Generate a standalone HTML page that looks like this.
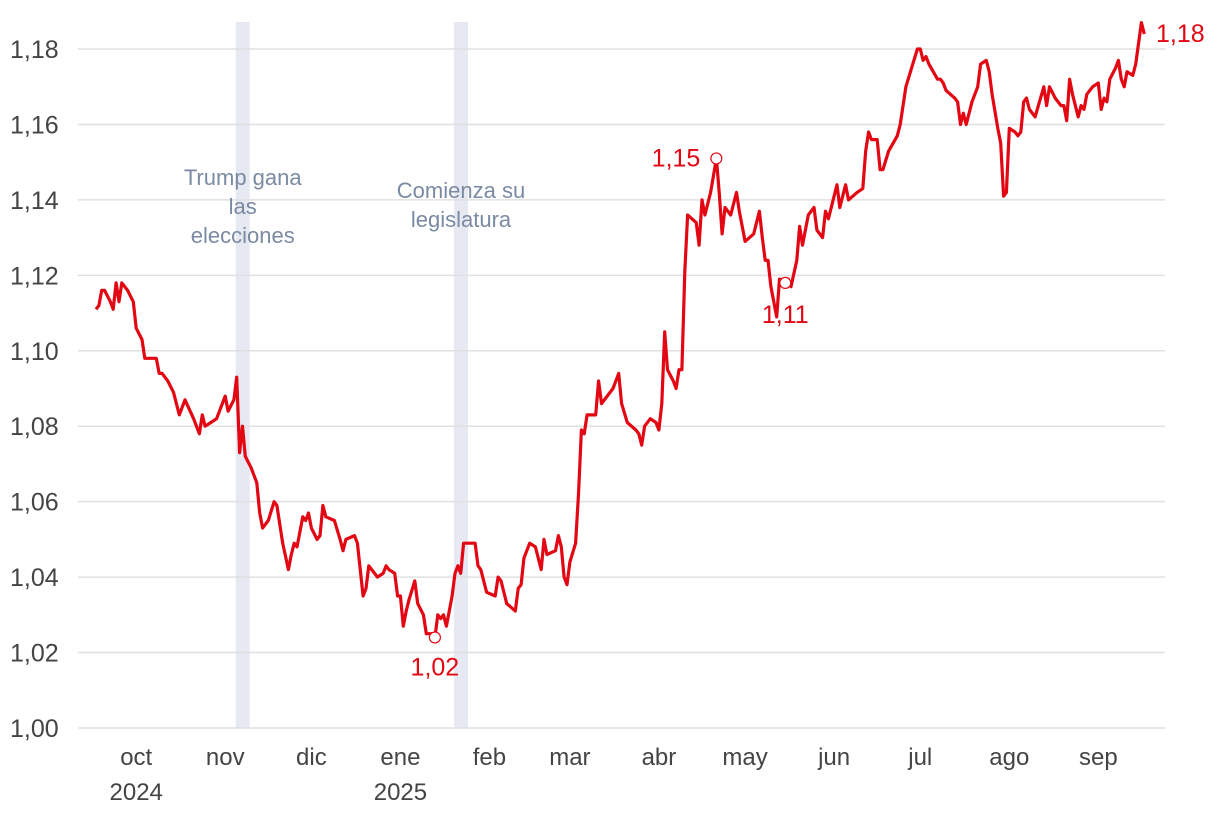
<!DOCTYPE html>
<html><head><meta charset="utf-8">
<style>
html,body{margin:0;padding:0;background:#fff;}
svg{display:block;font-family:"Liberation Sans",sans-serif;}
</style></head>
<body>
<svg id="chart" width="1220" height="816"></svg>
<script>
const dayIndex=[0,1,2,3,5,6,7,8,9,11,13,14,16,17,21,22,23,25,27,29,31,34,36,37,38,40,42,45,46,48,49,50,51,52,54,56,57,58,60,62,63,65,67,68,69,70,72,73,74,75,77,78,79,80,83,85,86,87,90,91,93,94,95,96,98,100,101,102,104,105,106,107,108,109,111,112,114,115,117,118,119,120,121,122,124,125,126,127,128,132,133,134,136,139,140,141,143,146,147,148,149,150,151,153,155,156,157,160,161,162,163,164,165,167,168,169,170,171,174,175,176,178,180,182,183,185,188,189,190,191,193,195,196,197,198,199,201,202,203,204,205,206,209,210,211,212,214,216,217,218,219,221,223,224,226,229,231,232,233,234,235,237,238,240,241,242,244,245,246,248,250,251,253,254,255,257,258,259,261,262,265,267,268,269,270,272,273,274,276,279,280,282,284,286,287,288,289,290,293,294,295,296,299,300,301,302,303,305,307,308,310,311,312,314,315,316,317,318,320,321,322,323,324,325,327,330,331,332,334,336,337,338,339,340,342,343,344,345,347,349,350,351,352,353,355,356,357,358,359,361,362,364,365];
const rateValues=[1.111,1.112,1.116,1.116,1.113,1.111,1.118,1.113,1.118,1.116,1.113,1.106,1.103,1.098,1.098,1.094,1.094,1.092,1.089,1.083,1.087,1.082,1.078,1.083,1.080,1.081,1.082,1.088,1.084,1.087,1.093,1.073,1.080,1.072,1.069,1.065,1.057,1.053,1.055,1.060,1.059,1.049,1.042,1.046,1.049,1.048,1.056,1.055,1.057,1.053,1.050,1.051,1.059,1.056,1.055,1.050,1.047,1.050,1.051,1.049,1.035,1.037,1.043,1.042,1.040,1.041,1.043,1.042,1.041,1.035,1.035,1.027,1.031,1.034,1.039,1.033,1.030,1.025,1.025,1.024,1.030,1.029,1.030,1.027,1.035,1.041,1.043,1.041,1.049,1.049,1.043,1.042,1.036,1.035,1.040,1.039,1.033,1.031,1.037,1.038,1.045,1.047,1.049,1.048,1.042,1.050,1.046,1.047,1.051,1.048,1.040,1.038,1.044,1.049,1.062,1.079,1.078,1.083,1.083,1.092,1.086,1.088,1.090,1.094,1.086,1.081,1.079,1.078,1.075,1.080,1.082,1.081,1.079,1.086,1.105,1.095,1.092,1.090,1.095,1.095,1.121,1.136,1.134,1.128,1.140,1.136,1.142,1.151,1.142,1.131,1.138,1.136,1.142,1.137,1.129,1.131,1.137,1.130,1.124,1.124,1.117,1.109,1.119,1.118,1.119,1.117,1.124,1.133,1.128,1.136,1.138,1.132,1.130,1.137,1.135,1.141,1.144,1.138,1.144,1.140,1.142,1.143,1.153,1.158,1.156,1.156,1.148,1.148,1.153,1.157,1.160,1.170,1.175,1.180,1.180,1.177,1.178,1.176,1.172,1.172,1.171,1.169,1.167,1.166,1.160,1.163,1.160,1.166,1.170,1.176,1.177,1.174,1.168,1.159,1.155,1.141,1.142,1.159,1.158,1.157,1.158,1.166,1.167,1.164,1.162,1.170,1.165,1.170,1.167,1.165,1.165,1.161,1.172,1.168,1.162,1.165,1.164,1.168,1.170,1.171,1.164,1.167,1.166,1.172,1.175,1.177,1.172,1.170,1.174,1.173,1.176,1.187,1.184];
const yTicks=[1.00,1.02,1.04,1.06,1.08,1.10,1.12,1.14,1.16,1.18];
const monthLabels=["oct","nov","dic","ene","feb","mar","abr","may","jun","jul","ago","sep"];
const monthDays=[14,45,75,106,137,165,196,226,257,287,318,349];
const yearLabels=["2024","","","2025","","","","","","","",""];
const eventDays=[49,125];
const eventLabels=[["Trump gana","las","elecciones"],["Comienza su","legislatura"]];
const markedIdx=[79,147,163];
const markedLabels=["1,02","1,15","1,11"];

const NS="http://www.w3.org/2000/svg";
const svg=document.getElementById('chart');
const X=d=>96+d*2.872;
const Y=v=>728-(v-1)*3772;
function el(t,a,p){const e=document.createElementNS(NS,t);for(const k in a)e.setAttribute(k,a[k]);(p||svg).appendChild(e);return e;}
const fmt=v=>v.toFixed(2).replace('.',',');

eventDays.forEach((d,i)=>{
  const r=el('rect',{x:X(d)-1,y:22,width:14,height:706,fill:'#e6e9f2'});
  
  
});
yTicks.forEach(v=>{
  const g=el('line',{x1:78,x2:1165,y1:Y(v),y2:Y(v),stroke:'#e0e0e0','stroke-width':1.5});
  
  
  const t=el('text',{x:10,y:Y(v)+9,'font-size':25,fill:'#444'});
  t.textContent=fmt(v);
  
  
});
monthLabels.forEach((m,i)=>{
  const t=el('text',{x:X(monthDays[i]),y:765,'font-size':24,fill:'#444','text-anchor':'middle'});
  t.textContent=m;
  
  
  if(yearLabels[i]){
    const y=el('text',{x:X(monthDays[i]),y:800,'font-size':24,fill:'#444','text-anchor':'middle'});
    y.textContent=yearLabels[i];
    
    
  }
});
const evTop=[185,198];
eventLabels.forEach((lines,i)=>{
  lines.forEach((s,j)=>{
    const t=el('text',{x:X(eventDays[i])+6,y:evTop[i]+j*29,'font-size':22,fill:'#7a8aa3','text-anchor':'middle'});
    t.textContent=s;
    
    
  });
});
let dstr='';
dayIndex.forEach((d,i)=>{dstr+=(i?'L':'M')+X(d).toFixed(1)+','+Y(rateValues[i]).toFixed(1);});
const line=el('path',{d:dstr,fill:'none',stroke:'#e30613','stroke-width':3.2,'stroke-linejoin':'round'});


const labOff=[[0,38,'middle'],[-16,8,'end'],[0,40,'middle']];
markedIdx.forEach((k,i)=>{
  const cx=X(dayIndex[k]),cy=Y(rateValues[k]);
  const c=el('circle',{cx:cx,cy:cy,r:5.5,fill:'#fff',stroke:'#e30613','stroke-width':1.2});
  
  
  const t=el('text',{x:cx+labOff[i][0],y:cy+labOff[i][1],'font-size':25,fill:'#e30613','text-anchor':labOff[i][2]});
  t.textContent=markedLabels[i];
  
  
});
const last=rateValues.length-1;
const lt=el('text',{x:1156,y:42,'font-size':25,fill:'#e30613'});
lt.textContent=fmt(rateValues[last]);


</script>
</body></html>
